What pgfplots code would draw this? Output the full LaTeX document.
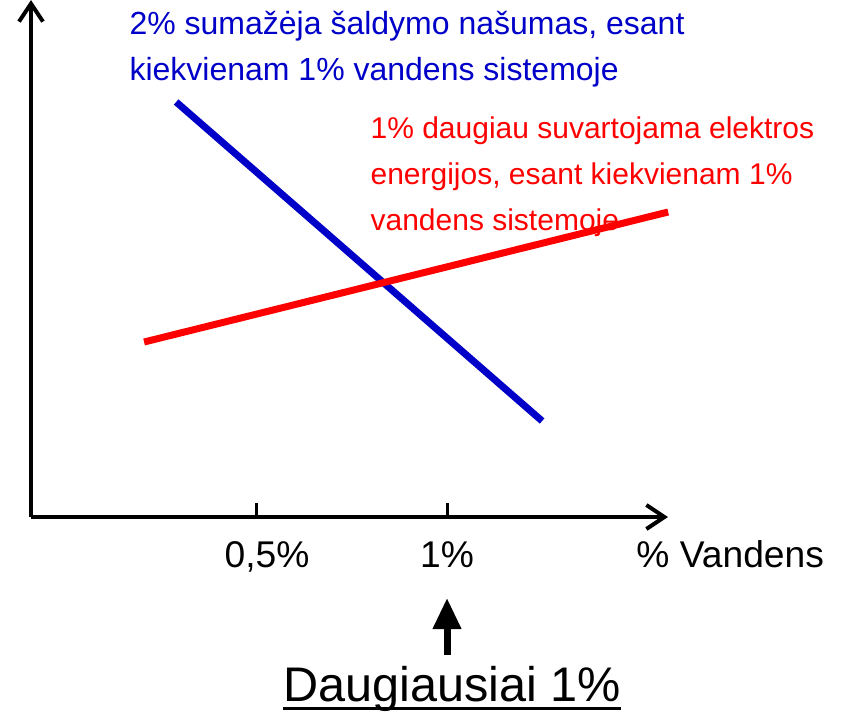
\documentclass[border=0pt]{standalone}
\usepackage{pgfplots}
\pgfplotsset{compat=1.18}
\usepackage{fontspec}
\setmainfont{Liberation Sans}
\usetikzlibrary{arrows.meta}
\definecolor{myblue}{RGB}{0,0,200}
\definecolor{myred}{RGB}{255,0,0}
\begin{document}
\begin{tikzpicture}
\useasboundingbox (-15.5pt,-98.5pt) rectangle (409.5pt,258.5pt);
\begin{axis}[
  at={(0,0)}, anchor=south west,
  x=191pt, y=0.5pt,
  xmin=-0.089, xmax=1.5785, ymin=0, ymax=517,
  axis lines=left,
  axis line style={line width=2pt, -{Straight Barb[length=9pt,width=12pt,line width=2pt]}},
  clip=false,
  xtick={0.5,1}, xticklabels={{\hspace*{11pt}0,5\%},{1\%}},
  ytick=\empty,
  tick align=inside,
  major tick length=7pt,
  every tick/.style={line width=1.5pt, black},
  xticklabel style={font=\fontsize{18.6}{20}\selectfont, anchor=base, yshift=-25pt, inner sep=0pt},
  xlabel={\% Vandens},
  xlabel style={at={(axis cs:1.4948,-50)}, anchor=base west, inner sep=0pt, font=\fontsize{18.6}{20}\selectfont},
]
\addplot[color=myblue, line width=3.5pt] coordinates {(0.291,415) (1.249,96)};
\addplot[color=myred, line width=3.5pt] coordinates {(0.207,175) (1.579,305)};

\node[anchor=base west, inner sep=0pt, text=myblue, font=\fontsize{16}{18}\selectfont] at (axis cs:0.168,483) {2\% sumažėja šaldymo našumas, esant};
\node[anchor=base west, inner sep=0pt, text=myblue, font=\fontsize{16}{18}\selectfont] at (axis cs:0.168,437) {kiekvienam 1\% vandens sistemoje};

\node[anchor=base west, inner sep=0pt, text=myred, font=\fontsize{15}{17}\selectfont] at (axis cs:0.799,379) {1\% daugiau suvartojama elektros};
\node[anchor=base west, inner sep=0pt, text=myred, font=\fontsize{15}{17}\selectfont] at (axis cs:0.799,333) {energijos, esant kiekvienam 1\%};
\node[anchor=base west, inner sep=0pt, text=myred, font=\fontsize{15}{17}\selectfont] at (axis cs:0.799,287) {vandens sistemoje};

\draw[line width=3.5pt, -{Triangle[length=15.5pt,width=13.5pt]}] (axis cs:1,-138) -- (axis cs:1,-81);
\node[anchor=base, inner sep=0pt, font=\fontsize{24.3}{27}\selectfont] (D) at (axis cs:1.013,-184) {Daugiausiai 1\%};
\draw[line width=1.5pt] ([yshift=-3.5pt]D.base west) -- ([yshift=-3.5pt]D.base east);
\end{axis}
\end{tikzpicture}
\end{document}
